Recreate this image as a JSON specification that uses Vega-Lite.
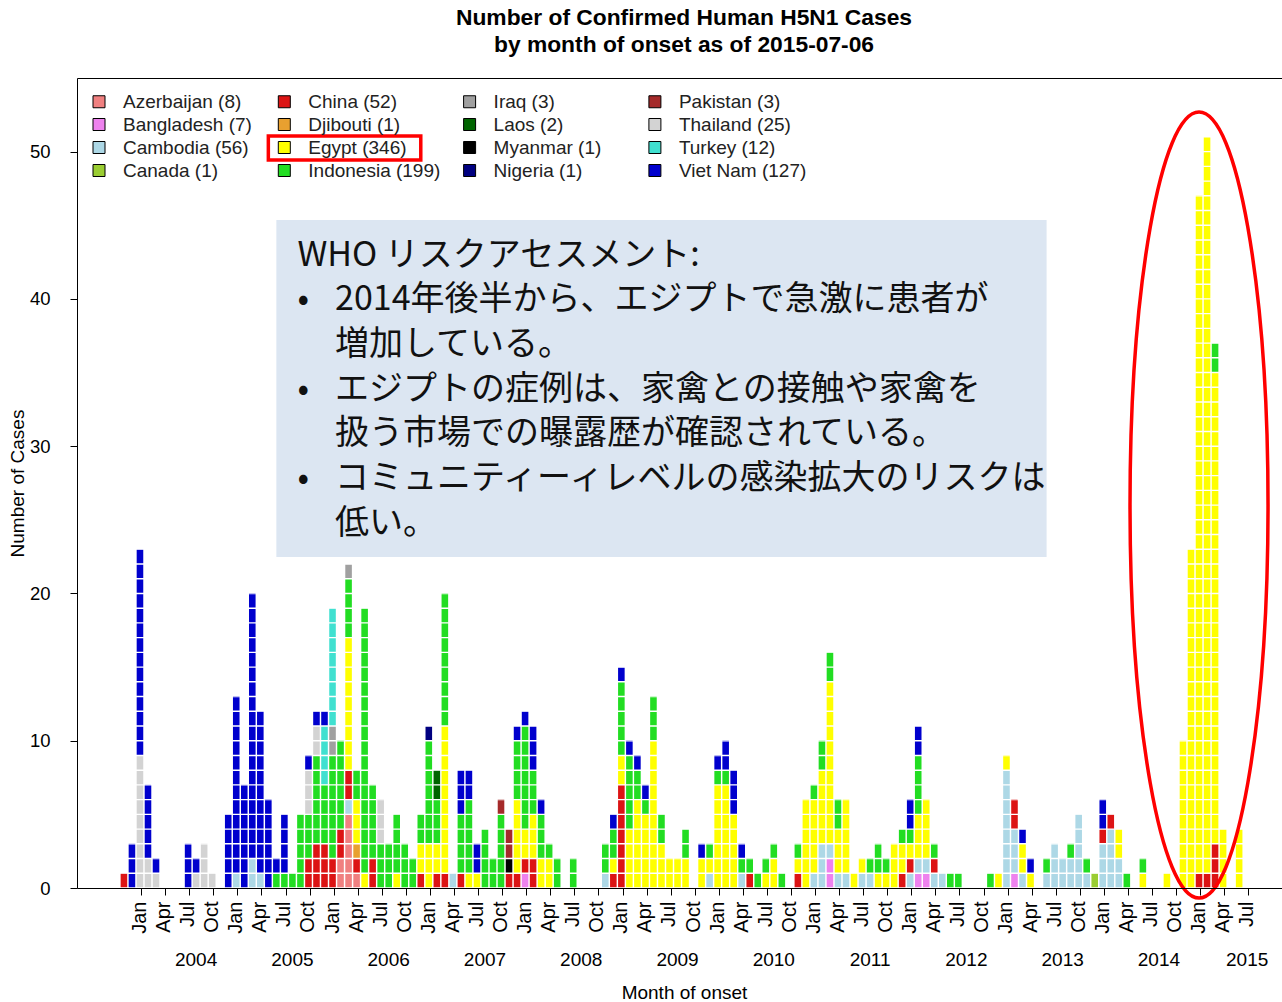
{
  "$schema": "https://vega.github.io/schema/vega-lite/v6.json",
  "autosize": {"type": "none"},
  "padding": {"left": 77, "top": 78, "right": 0, "bottom": 114},
  "width": 1205,
  "height": 810,
  "background": "white",
  "title": {"text": ["Number of Confirmed Human H5N1 Cases", "by month of onset as of 2015-07-06"], "font": "Liberation Sans", "fontSize": 22.8, "fontWeight": "bold", "lineHeight": 27, "anchor": "middle", "dx": 4.5, "offset": 21, "color": "black"},
  "config": {"view": {"stroke": null}},
  "datasets": {
    "cases": [
      {"m":"2003-11","c":"China (52)","n":1},
      {"m":"2003-12","c":"Viet Nam (127)","n":3},
      {"m":"2004-01","c":"Thailand (25)","n":9},{"m":"2004-01","c":"Viet Nam (127)","n":14},
      {"m":"2004-02","c":"Thailand (25)","n":2},{"m":"2004-02","c":"Viet Nam (127)","n":5},
      {"m":"2004-03","c":"Thailand (25)","n":1},{"m":"2004-03","c":"Viet Nam (127)","n":1},
      {"m":"2004-07","c":"Viet Nam (127)","n":3},
      {"m":"2004-08","c":"Thailand (25)","n":1},{"m":"2004-08","c":"Viet Nam (127)","n":1},
      {"m":"2004-09","c":"Thailand (25)","n":3},
      {"m":"2004-10","c":"Thailand (25)","n":1},
      {"m":"2004-12","c":"Viet Nam (127)","n":5},
      {"m":"2005-01","c":"Cambodia (56)","n":1},{"m":"2005-01","c":"Viet Nam (127)","n":12},
      {"m":"2005-02","c":"Viet Nam (127)","n":7},
      {"m":"2005-03","c":"Cambodia (56)","n":2},{"m":"2005-03","c":"Viet Nam (127)","n":18},
      {"m":"2005-04","c":"Cambodia (56)","n":1},{"m":"2005-04","c":"Viet Nam (127)","n":11},
      {"m":"2005-05","c":"Viet Nam (127)","n":6},
      {"m":"2005-06","c":"Indonesia (199)","n":1},{"m":"2005-06","c":"Viet Nam (127)","n":1},
      {"m":"2005-07","c":"Indonesia (199)","n":1},{"m":"2005-07","c":"Viet Nam (127)","n":4},
      {"m":"2005-08","c":"Indonesia (199)","n":1},
      {"m":"2005-09","c":"Indonesia (199)","n":5},
      {"m":"2005-10","c":"China (52)","n":2},{"m":"2005-10","c":"Indonesia (199)","n":3},{"m":"2005-10","c":"Thailand (25)","n":3},{"m":"2005-10","c":"Viet Nam (127)","n":1},
      {"m":"2005-11","c":"China (52)","n":3},{"m":"2005-11","c":"Indonesia (199)","n":6},{"m":"2005-11","c":"Thailand (25)","n":2},{"m":"2005-11","c":"Viet Nam (127)","n":1},
      {"m":"2005-12","c":"China (52)","n":3},{"m":"2005-12","c":"Indonesia (199)","n":4},{"m":"2005-12","c":"Turkey (12)","n":4},{"m":"2005-12","c":"Viet Nam (127)","n":1},
      {"m":"2006-01","c":"China (52)","n":2},{"m":"2006-01","c":"Indonesia (199)","n":7},{"m":"2006-01","c":"Iraq (3)","n":2},{"m":"2006-01","c":"Turkey (12)","n":8},
      {"m":"2006-02","c":"Azerbaijan (8)","n":2},{"m":"2006-02","c":"China (52)","n":2},{"m":"2006-02","c":"Indonesia (199)","n":6},
      {"m":"2006-03","c":"Azerbaijan (8)","n":5},{"m":"2006-03","c":"Cambodia (56)","n":1},{"m":"2006-03","c":"China (52)","n":2},{"m":"2006-03","c":"Egypt (346)","n":9},{"m":"2006-03","c":"Indonesia (199)","n":4},{"m":"2006-03","c":"Iraq (3)","n":1},
      {"m":"2006-04","c":"Azerbaijan (8)","n":1},{"m":"2006-04","c":"China (52)","n":1},{"m":"2006-04","c":"Djibouti (1)","n":1},{"m":"2006-04","c":"Egypt (346)","n":3},{"m":"2006-04","c":"Indonesia (199)","n":2},
      {"m":"2006-05","c":"Egypt (346)","n":1},{"m":"2006-05","c":"Indonesia (199)","n":18},
      {"m":"2006-06","c":"China (52)","n":2},{"m":"2006-06","c":"Indonesia (199)","n":5},
      {"m":"2006-07","c":"Indonesia (199)","n":3},{"m":"2006-07","c":"Thailand (25)","n":3},
      {"m":"2006-08","c":"Indonesia (199)","n":3},
      {"m":"2006-09","c":"Egypt (346)","n":1},{"m":"2006-09","c":"Indonesia (199)","n":4},
      {"m":"2006-10","c":"Indonesia (199)","n":3},
      {"m":"2006-11","c":"Indonesia (199)","n":2},
      {"m":"2006-12","c":"China (52)","n":1},{"m":"2006-12","c":"Egypt (346)","n":2},{"m":"2006-12","c":"Indonesia (199)","n":2},
      {"m":"2007-01","c":"Egypt (346)","n":3},{"m":"2007-01","c":"Indonesia (199)","n":7},{"m":"2007-01","c":"Nigeria (1)","n":1},
      {"m":"2007-02","c":"China (52)","n":1},{"m":"2007-02","c":"Egypt (346)","n":2},{"m":"2007-02","c":"Indonesia (199)","n":3},{"m":"2007-02","c":"Laos (2)","n":2},
      {"m":"2007-03","c":"China (52)","n":1},{"m":"2007-03","c":"Egypt (346)","n":10},{"m":"2007-03","c":"Indonesia (199)","n":9},
      {"m":"2007-04","c":"Cambodia (56)","n":1},
      {"m":"2007-05","c":"China (52)","n":1},{"m":"2007-05","c":"Indonesia (199)","n":4},{"m":"2007-05","c":"Viet Nam (127)","n":3},
      {"m":"2007-06","c":"Egypt (346)","n":1},{"m":"2007-06","c":"Indonesia (199)","n":5},{"m":"2007-06","c":"Viet Nam (127)","n":2},
      {"m":"2007-07","c":"Egypt (346)","n":1},{"m":"2007-07","c":"Viet Nam (127)","n":2},
      {"m":"2007-08","c":"Indonesia (199)","n":4},
      {"m":"2007-09","c":"Indonesia (199)","n":2},
      {"m":"2007-10","c":"Indonesia (199)","n":5},{"m":"2007-10","c":"Pakistan (3)","n":1},
      {"m":"2007-11","c":"China (52)","n":1},{"m":"2007-11","c":"Myanmar (1)","n":1},{"m":"2007-11","c":"Pakistan (3)","n":2},
      {"m":"2007-12","c":"China (52)","n":1},{"m":"2007-12","c":"Egypt (346)","n":5},{"m":"2007-12","c":"Indonesia (199)","n":4},{"m":"2007-12","c":"Viet Nam (127)","n":1},
      {"m":"2008-01","c":"Bangladesh (7)","n":1},{"m":"2008-01","c":"China (52)","n":1},{"m":"2008-01","c":"Egypt (346)","n":2},{"m":"2008-01","c":"Indonesia (199)","n":7},{"m":"2008-01","c":"Viet Nam (127)","n":1},
      {"m":"2008-02","c":"China (52)","n":2},{"m":"2008-02","c":"Egypt (346)","n":3},{"m":"2008-02","c":"Indonesia (199)","n":3},{"m":"2008-02","c":"Viet Nam (127)","n":3},
      {"m":"2008-03","c":"Egypt (346)","n":2},{"m":"2008-03","c":"Indonesia (199)","n":3},{"m":"2008-03","c":"Viet Nam (127)","n":1},
      {"m":"2008-04","c":"Egypt (346)","n":2},{"m":"2008-04","c":"Indonesia (199)","n":1},
      {"m":"2008-05","c":"Indonesia (199)","n":2},
      {"m":"2008-07","c":"Indonesia (199)","n":2},
      {"m":"2008-11","c":"Cambodia (56)","n":1},{"m":"2008-11","c":"Indonesia (199)","n":2},
      {"m":"2008-12","c":"China (52)","n":1},{"m":"2008-12","c":"Egypt (346)","n":1},{"m":"2008-12","c":"Indonesia (199)","n":2},{"m":"2008-12","c":"Viet Nam (127)","n":1},
      {"m":"2009-01","c":"China (52)","n":7},{"m":"2009-01","c":"Egypt (346)","n":2},{"m":"2009-01","c":"Indonesia (199)","n":5},{"m":"2009-01","c":"Viet Nam (127)","n":1},
      {"m":"2009-02","c":"Egypt (346)","n":4},{"m":"2009-02","c":"Indonesia (199)","n":5},{"m":"2009-02","c":"Viet Nam (127)","n":1},
      {"m":"2009-03","c":"Egypt (346)","n":6},{"m":"2009-03","c":"Indonesia (199)","n":2},{"m":"2009-03","c":"Viet Nam (127)","n":1},
      {"m":"2009-04","c":"Egypt (346)","n":5},{"m":"2009-04","c":"Indonesia (199)","n":1},{"m":"2009-04","c":"Viet Nam (127)","n":1},
      {"m":"2009-05","c":"Egypt (346)","n":10},{"m":"2009-05","c":"Indonesia (199)","n":3},
      {"m":"2009-06","c":"Egypt (346)","n":3},{"m":"2009-06","c":"Indonesia (199)","n":2},
      {"m":"2009-07","c":"Egypt (346)","n":2},
      {"m":"2009-08","c":"Egypt (346)","n":2},
      {"m":"2009-09","c":"Egypt (346)","n":2},{"m":"2009-09","c":"Indonesia (199)","n":2},
      {"m":"2009-11","c":"Egypt (346)","n":2},{"m":"2009-11","c":"Viet Nam (127)","n":1},
      {"m":"2009-12","c":"Cambodia (56)","n":1},{"m":"2009-12","c":"Egypt (346)","n":1},{"m":"2009-12","c":"Indonesia (199)","n":1},
      {"m":"2010-01","c":"Egypt (346)","n":7},{"m":"2010-01","c":"Indonesia (199)","n":1},{"m":"2010-01","c":"Viet Nam (127)","n":1},
      {"m":"2010-02","c":"Egypt (346)","n":7},{"m":"2010-02","c":"Indonesia (199)","n":1},{"m":"2010-02","c":"Viet Nam (127)","n":2},
      {"m":"2010-03","c":"Egypt (346)","n":5},{"m":"2010-03","c":"Viet Nam (127)","n":3},
      {"m":"2010-04","c":"Cambodia (56)","n":1},{"m":"2010-04","c":"Indonesia (199)","n":1},{"m":"2010-04","c":"Viet Nam (127)","n":1},
      {"m":"2010-05","c":"China (52)","n":1},{"m":"2010-05","c":"Indonesia (199)","n":1},
      {"m":"2010-06","c":"Indonesia (199)","n":1},
      {"m":"2010-07","c":"Egypt (346)","n":1},{"m":"2010-07","c":"Indonesia (199)","n":1},
      {"m":"2010-08","c":"Egypt (346)","n":2},{"m":"2010-08","c":"Indonesia (199)","n":1},
      {"m":"2010-09","c":"Indonesia (199)","n":1},
      {"m":"2010-11","c":"China (52)","n":1},{"m":"2010-11","c":"Egypt (346)","n":1},{"m":"2010-11","c":"Indonesia (199)","n":1},
      {"m":"2010-12","c":"Egypt (346)","n":6},
      {"m":"2011-01","c":"Cambodia (56)","n":1},{"m":"2011-01","c":"Egypt (346)","n":5},{"m":"2011-01","c":"Indonesia (199)","n":1},
      {"m":"2011-02","c":"Cambodia (56)","n":3},{"m":"2011-02","c":"Egypt (346)","n":5},{"m":"2011-02","c":"Indonesia (199)","n":2},
      {"m":"2011-03","c":"Bangladesh (7)","n":2},{"m":"2011-03","c":"Cambodia (56)","n":1},{"m":"2011-03","c":"Egypt (346)","n":11},{"m":"2011-03","c":"Indonesia (199)","n":2},
      {"m":"2011-04","c":"Cambodia (56)","n":1},{"m":"2011-04","c":"Egypt (346)","n":3},{"m":"2011-04","c":"Indonesia (199)","n":2},
      {"m":"2011-05","c":"Cambodia (56)","n":1},{"m":"2011-05","c":"Egypt (346)","n":5},
      {"m":"2011-06","c":"Egypt (346)","n":1},
      {"m":"2011-07","c":"Cambodia (56)","n":1},{"m":"2011-07","c":"Egypt (346)","n":1},
      {"m":"2011-08","c":"Cambodia (56)","n":1},{"m":"2011-08","c":"Indonesia (199)","n":1},
      {"m":"2011-09","c":"Egypt (346)","n":1},{"m":"2011-09","c":"Indonesia (199)","n":2},
      {"m":"2011-10","c":"Egypt (346)","n":1},{"m":"2011-10","c":"Indonesia (199)","n":1},
      {"m":"2011-11","c":"Egypt (346)","n":3},
      {"m":"2011-12","c":"China (52)","n":1},{"m":"2011-12","c":"Egypt (346)","n":2},{"m":"2011-12","c":"Indonesia (199)","n":1},
      {"m":"2012-01","c":"Cambodia (56)","n":1},{"m":"2012-01","c":"China (52)","n":1},{"m":"2012-01","c":"Egypt (346)","n":1},{"m":"2012-01","c":"Indonesia (199)","n":1},{"m":"2012-01","c":"Viet Nam (127)","n":2},
      {"m":"2012-02","c":"Bangladesh (7)","n":1},{"m":"2012-02","c":"Cambodia (56)","n":1},{"m":"2012-02","c":"Egypt (346)","n":3},{"m":"2012-02","c":"Indonesia (199)","n":4},{"m":"2012-02","c":"Viet Nam (127)","n":2},
      {"m":"2012-03","c":"Bangladesh (7)","n":1},{"m":"2012-03","c":"Cambodia (56)","n":1},{"m":"2012-03","c":"Egypt (346)","n":4},
      {"m":"2012-04","c":"Cambodia (56)","n":1},{"m":"2012-04","c":"China (52)","n":1},{"m":"2012-04","c":"Indonesia (199)","n":1},
      {"m":"2012-05","c":"Cambodia (56)","n":1},
      {"m":"2012-06","c":"Indonesia (199)","n":1},
      {"m":"2012-07","c":"Indonesia (199)","n":1},
      {"m":"2012-11","c":"Indonesia (199)","n":1},
      {"m":"2012-12","c":"Egypt (346)","n":1},
      {"m":"2013-01","c":"Cambodia (56)","n":8},{"m":"2013-01","c":"Egypt (346)","n":1},
      {"m":"2013-02","c":"Bangladesh (7)","n":1},{"m":"2013-02","c":"Cambodia (56)","n":3},{"m":"2013-02","c":"China (52)","n":2},
      {"m":"2013-03","c":"Cambodia (56)","n":1},{"m":"2013-03","c":"Egypt (346)","n":2},{"m":"2013-03","c":"Viet Nam (127)","n":1},
      {"m":"2013-04","c":"Egypt (346)","n":1},{"m":"2013-04","c":"Viet Nam (127)","n":1},
      {"m":"2013-06","c":"Cambodia (56)","n":1},{"m":"2013-06","c":"Indonesia (199)","n":1},
      {"m":"2013-07","c":"Cambodia (56)","n":3},
      {"m":"2013-08","c":"Cambodia (56)","n":2},
      {"m":"2013-09","c":"Cambodia (56)","n":2},{"m":"2013-09","c":"Indonesia (199)","n":1},
      {"m":"2013-10","c":"Cambodia (56)","n":5},
      {"m":"2013-11","c":"Cambodia (56)","n":1},{"m":"2013-11","c":"Indonesia (199)","n":1},
      {"m":"2013-12","c":"Canada (1)","n":1},
      {"m":"2014-01","c":"Cambodia (56)","n":3},{"m":"2014-01","c":"China (52)","n":1},{"m":"2014-01","c":"Viet Nam (127)","n":2},
      {"m":"2014-02","c":"Cambodia (56)","n":4},{"m":"2014-02","c":"China (52)","n":1},
      {"m":"2014-03","c":"Cambodia (56)","n":2},{"m":"2014-03","c":"Egypt (346)","n":2},
      {"m":"2014-04","c":"Indonesia (199)","n":1},
      {"m":"2014-06","c":"Egypt (346)","n":1},{"m":"2014-06","c":"Indonesia (199)","n":1},
      {"m":"2014-09","c":"Egypt (346)","n":1},
      {"m":"2014-11","c":"Egypt (346)","n":10},
      {"m":"2014-12","c":"Egypt (346)","n":23},
      {"m":"2015-01","c":"China (52)","n":1},{"m":"2015-01","c":"Egypt (346)","n":46},
      {"m":"2015-02","c":"China (52)","n":1},{"m":"2015-02","c":"Egypt (346)","n":50},
      {"m":"2015-03","c":"China (52)","n":3},{"m":"2015-03","c":"Egypt (346)","n":32},{"m":"2015-03","c":"Indonesia (199)","n":2},
      {"m":"2015-04","c":"Egypt (346)","n":4},
      {"m":"2015-06","c":"Egypt (346)","n":4}
    ]
  },
  "resolve": {"axis": {"x": "independent", "y": "independent"}},
  "layer": [
    {
      "data": {"name": "cases"},
      "mark": {"type": "bar"},
      "encoding": {
        "x": {
          "field": "m", "type": "ordinal",
          "scale": {
            "type": "band", "paddingInner": 0.18, "paddingOuter": 0.685, "align": 0.32,
            "domain": ["2003-06","2003-07","2003-08","2003-09","2003-10","2003-11","2003-12",
              "2004-01","2004-02","2004-03","2004-04","2004-05","2004-06","2004-07","2004-08","2004-09","2004-10","2004-11","2004-12",
              "2005-01","2005-02","2005-03","2005-04","2005-05","2005-06","2005-07","2005-08","2005-09","2005-10","2005-11","2005-12",
              "2006-01","2006-02","2006-03","2006-04","2006-05","2006-06","2006-07","2006-08","2006-09","2006-10","2006-11","2006-12",
              "2007-01","2007-02","2007-03","2007-04","2007-05","2007-06","2007-07","2007-08","2007-09","2007-10","2007-11","2007-12",
              "2008-01","2008-02","2008-03","2008-04","2008-05","2008-06","2008-07","2008-08","2008-09","2008-10","2008-11","2008-12",
              "2009-01","2009-02","2009-03","2009-04","2009-05","2009-06","2009-07","2009-08","2009-09","2009-10","2009-11","2009-12",
              "2010-01","2010-02","2010-03","2010-04","2010-05","2010-06","2010-07","2010-08","2010-09","2010-10","2010-11","2010-12",
              "2011-01","2011-02","2011-03","2011-04","2011-05","2011-06","2011-07","2011-08","2011-09","2011-10","2011-11","2011-12",
              "2012-01","2012-02","2012-03","2012-04","2012-05","2012-06","2012-07","2012-08","2012-09","2012-10","2012-11","2012-12",
              "2013-01","2013-02","2013-03","2013-04","2013-05","2013-06","2013-07","2013-08","2013-09","2013-10","2013-11","2013-12",
              "2014-01","2014-02","2014-03","2014-04","2014-05","2014-06","2014-07","2014-08","2014-09","2014-10","2014-11","2014-12",
              "2015-01","2015-02","2015-03","2015-04","2015-05","2015-06","2015-07","2015-08","2015-09","2015-10"]
          },
          "axis": {
            "orient": "bottom",
            "values": ["2004-01","2004-04","2004-07","2004-10","2005-01","2005-04","2005-07","2005-10","2006-01","2006-04","2006-07","2006-10","2007-01","2007-04","2007-07","2007-10","2008-01","2008-04","2008-07","2008-10","2009-01","2009-04","2009-07","2009-10","2010-01","2010-04","2010-07","2010-10","2011-01","2011-04","2011-07","2011-10","2012-01","2012-04","2012-07","2012-10","2013-01","2013-04","2013-07","2013-10","2014-01","2014-04","2014-07","2014-10","2015-01","2015-04","2015-07"],
            "labelExpr": "slice(datum.value,5)=='01'?'Jan':slice(datum.value,5)=='04'?'Apr':slice(datum.value,5)=='07'?'Jul':'Oct'",
            "labelAngle": 270, "labelAlign": "right", "labelBaseline": "middle",
            "labelFont": "Liberation Sans", "labelFontSize": 20, "labelColor": "black", "labelPadding": 6, "labelOverlap": false,
            "tickColor": "black", "tickSize": 7, "tickWidth": 1, "bandPosition": 0.75,
            "domainColor": "black", "domainWidth": 1, "grid": false, "title": null, "zindex": 1
          }
        },
        "y": {
          "field": "n", "type": "quantitative", "stack": "zero",
          "scale": {"domain": [0, 55], "nice": false, "zero": true},
          "axis": {
            "orient": "left",
            "values": [0, 10, 20, 30, 40, 50], "title": "Number of Cases",
            "labelFont": "Liberation Sans", "labelFontSize": 18.5, "labelColor": "black", "labelPadding": 20,
            "tickColor": "black", "tickSize": 7, "domain": true, "domainColor": "black", "grid": false,
            "titleFont": "Liberation Sans", "titleFontSize": 19, "titleFontWeight": "normal", "titleColor": "black", "titlePadding": 2, "zindex": 1
          }
        },
        "color": {
          "field": "c", "type": "nominal",
          "scale": {
            "domain": ["Azerbaijan (8)","Bangladesh (7)","Cambodia (56)","Canada (1)","China (52)","Djibouti (1)","Egypt (346)","Indonesia (199)","Iraq (3)","Laos (2)","Myanmar (1)","Nigeria (1)","Pakistan (3)","Thailand (25)","Turkey (12)","Viet Nam (127)"],
            "range": ["#F08080","#EE82EE","#ADD8E6","#9ACD32","#DC1414","#E8A030","#FFFF00","#22DD22","#A0A0A0","#006400","#000000","#000080","#A52A2A","#D3D3D3","#40E0D0","#0000CD"]
          },
          "legend": {
            "orient": "none", "legendX": 12.5, "legendY": 14, "columns": 4, "title": null,
            "symbolType": "square", "symbolSize": 144, "symbolStrokeColor": "black", "symbolStrokeWidth": 1,
            "labelFont": "Liberation Sans", "labelFontSize": 19, "labelColor": "#222222", "labelOffset": 14.5, "labelLimit": 300,
            "columnPadding": 19.3, "rowPadding": 3, "gridAlign": "all", "padding": 0,
            "encode": {"symbols": {"update": {"stroke": {"value": "black"}, "strokeWidth": {"value": 1}}}}
          }
        },
        "order": {"field": "c", "type": "ordinal", "sort": "ascending"}
      }
    },
    {
      "data": {"name": "cases"},
      "transform": [{"aggregate": [{"op": "sum", "field": "n", "as": "total"}], "groupby": ["m"]}],
      "mark": {"type": "rule", "color": "white", "strokeWidth": 8, "strokeDash": [1.4, 13.32727], "strokeDashOffset": 0.7},
      "encoding": {
        "x": {
          "field": "m", "type": "ordinal",
          "axis": {
            "orient": "bottom",
            "values": ["2004-08","2005-08","2006-08","2007-08","2008-08","2009-08","2010-08","2011-08","2012-08","2013-08","2014-08","2015-07"],
            "labelExpr": "slice(datum.value,0,4)", "labelAngle": 0, "labelAlign": "center", "labelBaseline": "top",
            "labelFont": "Liberation Sans", "labelFontSize": 19, "labelColor": "black", "labelPadding": 62, "labelOverlap": false,
            "ticks": false, "tickSize": 0, "domain": false, "grid": false,
            "title": "Month of onset", "titleFont": "Liberation Sans", "titleFontSize": 19, "titleFontWeight": "normal", "titleColor": "black", "titlePadding": 14, "titleX": 607
          }
        },
        "y": {"field": "total", "type": "quantitative", "axis": null},
        "y2": {"datum": 0}
      }
    },
    {
      "data": {"values": [{}]},
      "mark": {"type": "rect", "fill": "#DCE6F2"},
      "encoding": {
        "x": {"datum": "2005-06", "type": "ordinal", "bandPosition": 0.5, "axis": {"orient": "top", "labels": false, "ticks": false, "domain": true, "domainColor": "black", "grid": false, "title": null}},
        "x2": {"datum": "2013-06", "bandPosition": 0.5},
        "y": {"datum": 45.36, "type": "quantitative", "axis": null},
        "y2": {"datum": 22.47}
      }
    },
    {
      "data": {"values": [{}]},
      "mark": {"type": "text", "text": "WHO リスクアセスメント:", "font": "Noto Sans CJK JP", "fontSize": 34, "align": "left", "baseline": "top", "dx": 5, "color": "#111111"},
      "encoding": {
        "x": {"datum": "2005-08", "type": "ordinal", "axis": null},
        "y": {"datum": 44.1, "type": "quantitative", "axis": null}
      }
    },
    {
      "data": {"values": [{}]},
      "mark": {"type": "text", "text": ["•", "•", "•"], "font": "Noto Sans CJK JP", "fontSize": 34, "lineHeight": 89.4, "align": "left", "baseline": "top", "dx": 5, "color": "#111111"},
      "encoding": {
        "x": {"datum": "2005-08", "type": "ordinal", "axis": null},
        "y": {"datum": 41.065, "type": "quantitative", "axis": null}
      }
    },
    {
      "data": {"values": [{}]},
      "mark": {"type": "text", "text": ["2014年後半から、エジプトで急激に患者が", "増加している。", "エジプトの症例は、家禽との接触や家禽を", "扱う市場での曝露歴が確認されている。", "コミュニティーィレベルの感染拡大のリスクは", "低い。"], "font": "Noto Sans CJK JP", "fontSize": 34, "lineHeight": 44.7, "align": "left", "baseline": "top", "dx": 2.5, "color": "#111111"},
      "encoding": {
        "x": {"datum": "2006-01", "type": "ordinal", "axis": null},
        "y": {"datum": 41.065, "type": "quantitative", "axis": null}
      }
    },
    {
      "data": {"values": [{}]},
      "mark": {"type": "point", "shape": "M-0.1756,0A0.1756,1,0,1,0,0.1756,0A0.1756,1,0,1,0,-0.1756,0Z", "size": 617796, "filled": false, "stroke": "#FF0000", "strokeWidth": 3.5, "opacity": 1},
      "encoding": {
        "x": {"datum": "2015-01", "type": "ordinal", "axis": null},
        "y": {"datum": 26.0, "type": "quantitative", "axis": null}
      }
    },
    {
      "data": {"values": [{}]},
      "mark": {"type": "rect", "fill": "transparent", "stroke": "#FF0000", "strokeWidth": 3.5},
      "encoding": {
        "x": {"datum": "2005-05", "type": "ordinal", "bandPosition": 0.5, "axis": null},
        "x2": {"datum": "2006-12", "bandPosition": 0.5},
        "y": {"datum": 51.06, "type": "quantitative", "axis": null},
        "y2": {"datum": 49.43}
      }
    }
  ]
}
